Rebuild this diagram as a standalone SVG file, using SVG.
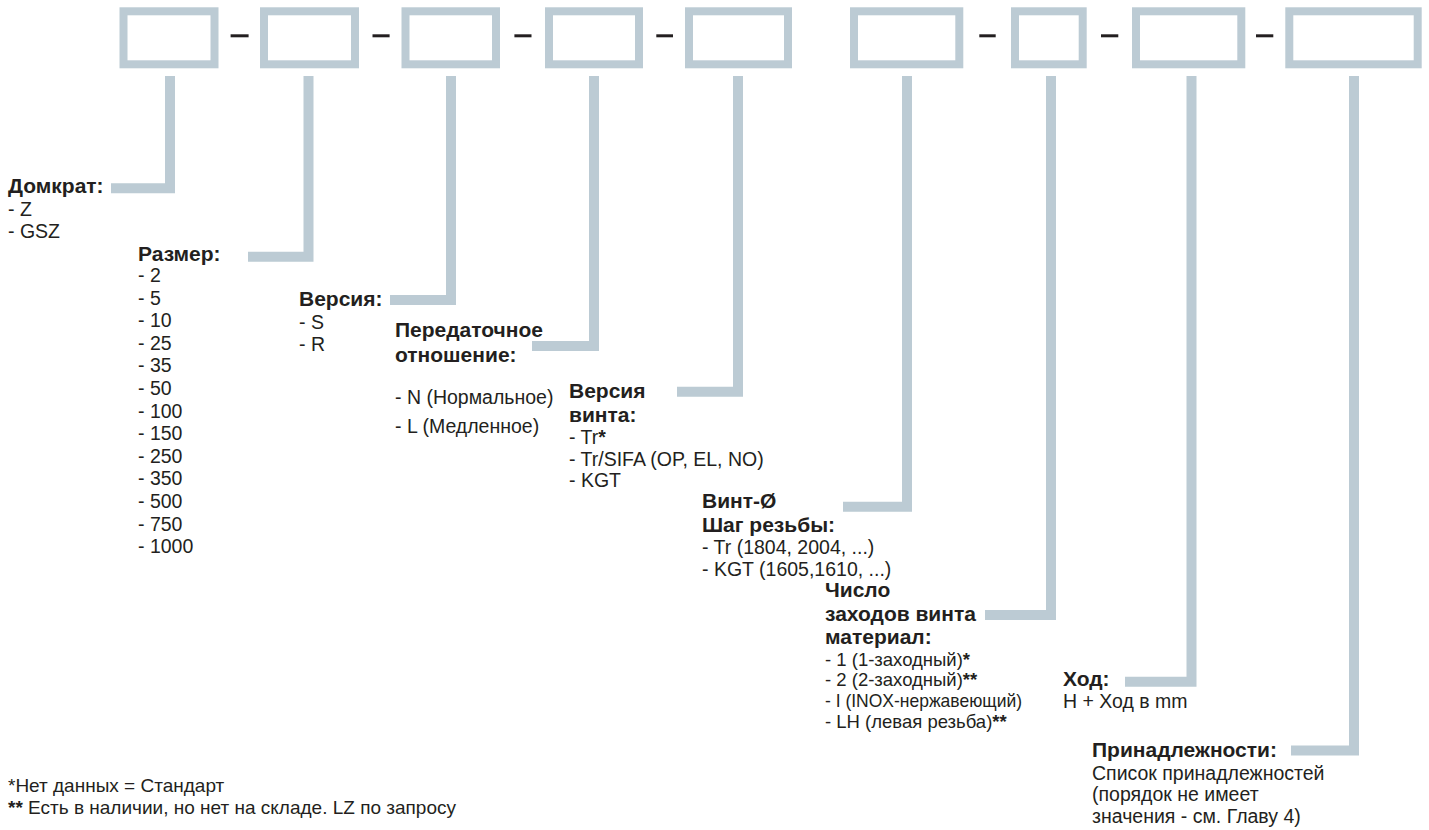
<svg xmlns="http://www.w3.org/2000/svg" width="1429" height="830" viewBox="0 0 1429 830">
<style>
.box{fill:#fff;stroke:#bccbd4;stroke-width:8}
.sep{stroke:#231f20;stroke-width:3}
.conn{fill:none;stroke:#bccbd4;stroke-width:10;stroke-linejoin:miter;stroke-linecap:butt}
text{font-family:"Liberation Sans",Arial,sans-serif;fill:#231f20;font-size:19.5px}
.h{font-weight:700;font-size:21px}
.b{font-weight:700}
.fn{font-size:19px}
.m{font-size:18.5px}
</style>
<rect width="1429" height="830" fill="#fff"/>
<g id="slots">
<g id="slot-1"><rect class="box" x="123.5" y="11.3" width="91" height="53"/></g>
<g id="slot-2"><rect class="box" x="264" y="11.3" width="91" height="53"/></g>
<g id="slot-3"><rect class="box" x="405.5" y="11.3" width="90.5" height="53"/></g>
<g id="slot-4"><rect class="box" x="549" y="11.3" width="90" height="53"/></g>
<g id="slot-5"><rect class="box" x="689" y="11.3" width="99" height="53"/></g>
<g id="slot-6"><rect class="box" x="854" y="11.3" width="105.3" height="53"/></g>
<g id="slot-7"><rect class="box" x="1015" y="11.3" width="67.7" height="53"/></g>
<g id="slot-8"><rect class="box" x="1136" y="11.3" width="105.3" height="53"/></g>
<g id="slot-9"><rect class="box" x="1289.3" y="11.3" width="128.4" height="53"/></g>
</g>
<g id="separators">
<line class="sep" x1="230.6" y1="35.8" x2="248.6" y2="35.8"/>
<line class="sep" x1="372.5" y1="35.8" x2="389.6" y2="35.8"/>
<line class="sep" x1="514.4" y1="35.8" x2="531.5" y2="35.8"/>
<line class="sep" x1="656.3" y1="35.8" x2="673" y2="35.8"/>
<line class="sep" x1="979.3" y1="35.8" x2="995.7" y2="35.8"/>
<line class="sep" x1="1101" y1="35.8" x2="1118.3" y2="35.8"/>
<line class="sep" x1="1256" y1="35.8" x2="1273.3" y2="35.8"/>
</g>
<g id="connectors">
<path class="conn" d="M170,76 V188.3 H111"/>
<path class="conn" d="M308.5,76 V256.7 H248"/>
<path class="conn" d="M451,76 V300 H390"/>
<path class="conn" d="M594,76 V346 H532"/>
<path class="conn" d="M738,76 V391.7 H677"/>
<path class="conn" d="M907,76 V506.7 H843"/>
<path class="conn" d="M1051,76 V615 H985"/>
<path class="conn" d="M1191.5,76 V681.7 H1125"/>
<path class="conn" d="M1354,76 V750.5 H1291"/>
</g>
<g id="label-jack">
<text class="h" x="8" y="193">Домкрат:</text>
<text x="8" y="215.5">- Z</text>
<text x="8" y="237.5">- GSZ</text>
</g>
<g id="label-size">
<text class="h" x="138" y="261">Размер:</text>
<text x="138" y="282">- 2</text>
<text x="138" y="304.6">- 5</text>
<text x="138" y="327.2">- 10</text>
<text x="138" y="349.8">- 25</text>
<text x="138" y="372.4">- 35</text>
<text x="138" y="395">- 50</text>
<text x="138" y="417.6">- 100</text>
<text x="138" y="440.2">- 150</text>
<text x="138" y="462.8">- 250</text>
<text x="138" y="485.4">- 350</text>
<text x="138" y="508">- 500</text>
<text x="138" y="530.6">- 750</text>
<text x="138" y="553.2">- 1000</text>
</g>
<g id="label-version">
<text class="h" x="299" y="306">Версия:</text>
<text x="299" y="329">- S</text>
<text x="299" y="351">- R</text>
</g>
<g id="label-ratio">
<text class="h" x="395" y="337">Передаточное</text>
<text class="h" x="395" y="362">отношение:</text>
<text x="395" y="404">- N (Нормальное)</text>
<text x="395" y="433">- L (Медленное)</text>
</g>
<g id="label-screw-version">
<text class="h" x="569" y="398.3">Версия</text>
<text class="h" x="569" y="422">винта:</text>
<text x="569" y="444">- Tr<tspan class="b">*</tspan></text>
<text x="569" y="465.5">- Tr/SIFA (OP, EL, NO)</text>
<text x="569" y="487">- KGT</text>
</g>
<g id="label-screw-diameter">
<text class="h" x="702" y="508">Винт-Ø</text>
<text class="h" x="702" y="531.7">Шаг резьбы:</text>
<text x="702" y="554">- Tr (1804, 2004, ...)</text>
<text x="702" y="576">- KGT (1605,1610, ...)</text>
</g>
<g id="label-starts">
<text class="h" x="825" y="597">Число</text>
<text class="h" x="825" y="620.7">заходов винта</text>
<text class="h" x="825" y="644.4">материал:</text>
<text class="m" x="825" y="665.5">- 1 (1-заходный)<tspan class="b">*</tspan></text>
<text class="m" x="825" y="686.3">- 2 (2-заходный)<tspan class="b">**</tspan></text>
<text class="m" x="825" y="707.1" textLength="197" lengthAdjust="spacingAndGlyphs">- I (INOX-нержавеющий)</text>
<text class="m" x="825" y="727.9">- LH (левая резьба)<tspan class="b">**</tspan></text>
</g>
<g id="label-stroke">
<text class="h" x="1063" y="686">Ход:</text>
<text x="1063" y="707.5">H + Ход в mm</text>
</g>
<g id="label-accessories">
<text class="h" x="1092" y="757">Принадлежности:</text>
<text x="1092" y="779.5">Список принадлежностей</text>
<text x="1092" y="801">(порядок не имеет</text>
<text x="1092" y="822.5">значения - см. Главу 4)</text>
</g>
<g id="footnotes">
<text class="fn" x="8" y="792">*Нет данных = Стандарт</text>
<text class="fn" x="8" y="814"><tspan class="b">**</tspan> Есть в наличии, но нет на складе. LZ по запросу</text>
</g>
</svg>
